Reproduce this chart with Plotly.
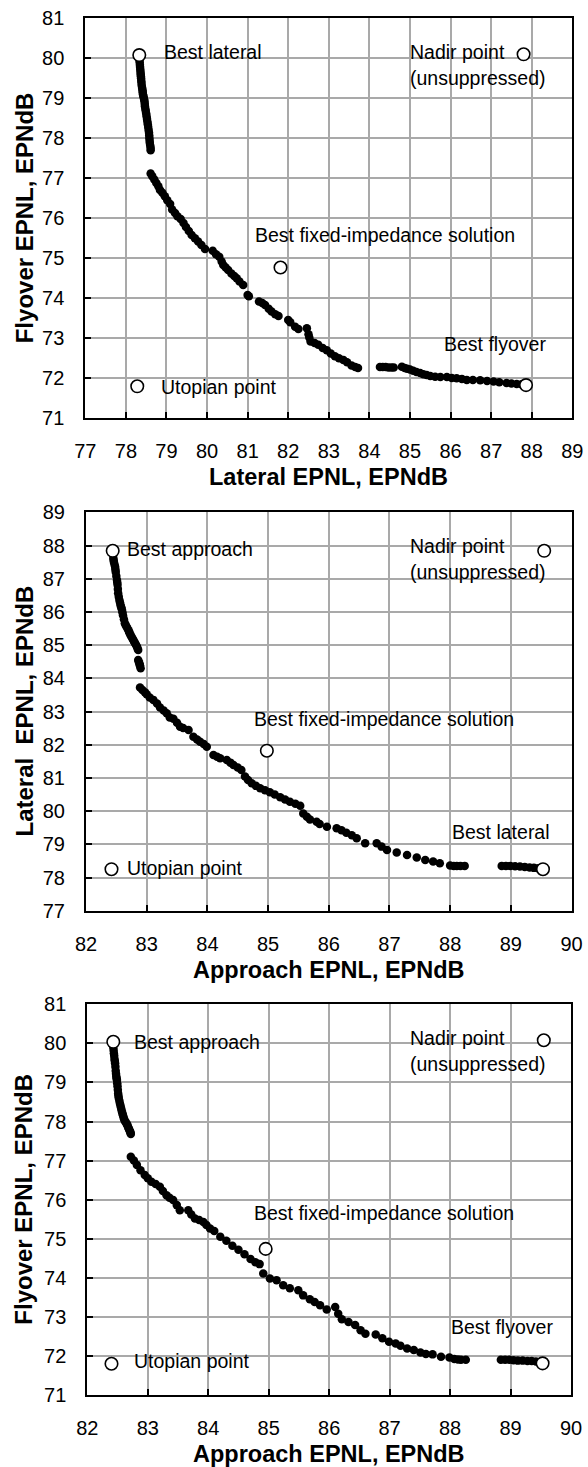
import plotly.graph_objects as go

# ---------------- Panel 1: Lateral (x) vs Flyover (y) ----------------
p1_lateral = [78.33, 78.335, 78.34, 78.345, 78.35, 78.355, 78.36, 78.365, 78.37, 78.375, 78.38, 78.385,
              78.39, 78.40, 78.41, 78.415, 78.42, 78.43, 78.44, 78.45, 78.46, 78.465, 78.47, 78.48,
              78.49, 78.50, 78.51, 78.52, 78.53, 78.54, 78.55, 78.56, 78.57, 78.575, 78.58, 78.585,
              78.59, 78.60, 78.61, 78.61,
              78.61, 78.65, 78.70, 78.75, 78.80, 78.84, 78.90, 78.96, 79.02, 79.09, 79.14, 79.21, 79.27,
              79.35, 79.42, 79.48, 79.55, 79.62, 79.70, 79.78, 79.86, 79.95, 80.14, 80.22, 80.30, 80.36,
              80.40, 80.46, 80.52, 80.60, 80.67, 80.73, 80.80, 80.89,
              81.00, 81.03, 81.28, 81.36, 81.43, 81.52, 81.59, 81.68, 81.76, 82.00, 82.05, 82.17, 82.25,
              82.46, 82.50, 82.52, 82.55, 82.65, 82.74, 82.85, 82.95, 83.05, 83.15, 83.25, 83.36, 83.45,
              83.56, 83.65, 83.72,
              84.26, 84.33, 84.40, 84.47, 84.54, 84.60,
              84.80, 84.87, 84.93, 85.00, 85.08, 85.16, 85.25, 85.33, 85.41, 85.50, 85.62, 85.75, 85.91,
              86.03, 86.15, 86.28, 86.40, 86.55, 86.73, 86.90, 87.06, 87.20, 87.38, 87.50, 87.63, 87.75]
p1_flyover = [80.02, 79.96, 79.90, 79.84, 79.78, 79.72, 79.66, 79.60, 79.55, 79.50, 79.44, 79.38,
              79.32, 79.26, 79.20, 79.15, 79.10, 79.06, 79.02, 78.97, 78.92, 78.86, 78.80, 78.74,
              78.68, 78.62, 78.55, 78.48, 78.42, 78.35, 78.28, 78.21, 78.14, 78.07, 78.00, 77.94,
              77.88, 77.82, 77.76, 77.70,
              77.12, 77.05, 76.97, 76.88, 76.80, 76.71, 76.64, 76.55, 76.45, 76.36, 76.22, 76.13, 76.05,
              75.98, 75.88, 75.78, 75.68, 75.58, 75.50, 75.42, 75.33, 75.23, 75.19, 75.10, 75.04, 74.92,
              74.83, 74.77, 74.71, 74.62, 74.56, 74.50, 74.42, 74.33,
              74.08, 74.05, 73.92, 73.88, 73.83, 73.74, 73.67, 73.60, 73.56, 73.46, 73.40, 73.29, 73.23,
              73.25, 73.10, 73.02, 72.92, 72.88, 72.84, 72.76, 72.70, 72.62, 72.55, 72.50, 72.46, 72.40,
              72.32, 72.28, 72.26,
              72.28, 72.28, 72.28, 72.27, 72.27, 72.27,
              72.29, 72.26, 72.24, 72.22, 72.19, 72.16, 72.13, 72.10, 72.08, 72.06, 72.04, 72.03, 72.03,
              72.01, 72.00, 71.98, 71.96, 71.96, 71.95, 71.93, 71.92, 71.90, 71.88, 71.87, 71.86, 71.85]
# Best lateral, Nadir, Best flyover, Utopian, Best fixed-impedance
p1_special_lateral = [78.33, 87.80, 87.86, 78.28, 81.81]
p1_special_flyover = [80.08, 80.10, 71.83, 71.80, 74.77]

# ---------------- Panel 2: Approach (x) vs Lateral (y) ----------------
p2_approach = [82.45, 82.455, 82.46, 82.47, 82.48, 82.485, 82.49, 82.50, 82.51, 82.515, 82.52, 82.525,
               82.53, 82.54, 82.55, 82.56, 82.57, 82.58, 82.59, 82.60, 82.61, 82.625, 82.64, 82.655,
               82.67, 82.685, 82.70, 82.71, 82.72, 82.735, 82.75, 82.765, 82.78, 82.795, 82.81, 82.825,
               82.84, 82.85, 82.86,
               82.86, 82.87, 82.88, 82.885, 82.89, 82.90,
               82.89, 82.93, 82.97, 83.00, 83.05, 83.11, 83.17, 83.22, 83.28, 83.33, 83.38, 83.44, 83.50,
               83.55, 83.60, 83.69, 83.77, 83.83, 83.88, 83.94, 83.99, 84.10, 84.16, 84.21, 84.32, 84.38,
               84.43, 84.50, 84.56,
               84.62, 84.67, 84.73, 84.80, 84.87, 84.95, 85.03, 85.11, 85.20, 85.28, 85.36, 85.45, 85.53,
               85.58, 85.64, 85.69, 85.80, 85.85, 85.97, 86.13, 86.21, 86.29, 86.38, 86.46, 86.60,
               86.79, 86.87, 86.96, 87.12, 87.29, 87.45, 87.59, 87.72, 87.83,
               88.00, 88.06, 88.11, 88.17, 88.24,
               88.85, 88.92, 88.99, 89.07, 89.15, 89.23, 89.31, 89.38, 89.45]
p2_lateral = [87.62, 87.56, 87.50, 87.43, 87.36, 87.28, 87.20, 87.08, 86.96, 86.89, 86.82, 86.69,
              86.56, 86.46, 86.36, 86.28, 86.20, 86.14, 86.08, 85.99, 85.90, 85.78, 85.66, 85.60,
              85.55, 85.50, 85.45, 85.40, 85.36, 85.30, 85.25, 85.20, 85.15, 85.10, 85.05, 85.00,
              84.95, 84.90, 84.85,
              84.55, 84.50, 84.45, 84.41, 84.38, 84.30,
              83.72, 83.65, 83.58, 83.52, 83.42, 83.35, 83.24, 83.12, 83.03, 82.95, 82.82, 82.78, 82.66,
              82.54, 82.50, 82.44, 82.24, 82.16, 82.09, 82.02, 81.94, 81.69, 81.64, 81.59, 81.54, 81.46,
              81.39, 81.31, 81.24,
              81.04, 80.94, 80.84, 80.76, 80.69, 80.63, 80.57, 80.50, 80.42, 80.35, 80.28, 80.22, 80.16,
              79.93, 79.83, 79.75, 79.68, 79.61, 79.53, 79.48, 79.42, 79.35, 79.27, 79.18, 79.03,
              79.03, 78.93, 78.83, 78.75, 78.68, 78.60, 78.53, 78.48, 78.43,
              78.36, 78.35, 78.35, 78.35, 78.35,
              78.35, 78.35, 78.35, 78.34, 78.33, 78.32, 78.30, 78.29, 78.28]
# Best approach, Nadir, Best lateral, Utopian, Best fixed-impedance
p2_special_approach = [82.44, 89.55, 89.53, 82.42, 84.98]
p2_special_lateral = [87.84, 87.84, 78.25, 78.25, 81.82]

# ---------------- Panel 3: Approach (x) vs Flyover (y) ----------------
p3_approach = [82.43, 82.435, 82.44, 82.445, 82.45, 82.455, 82.46, 82.465, 82.47, 82.475, 82.48, 82.485,
               82.49, 82.495, 82.50, 82.505, 82.51, 82.515, 82.52, 82.53, 82.54, 82.55, 82.56, 82.57,
               82.58, 82.59, 82.60, 82.61, 82.62, 82.635, 82.65, 82.66, 82.67, 82.68, 82.69, 82.70,
               82.71, 82.715, 82.72,
               82.72, 82.77, 82.82, 82.88, 82.95, 83.00, 83.06, 83.13, 83.20, 83.25, 83.31, 83.36, 83.42,
               83.48, 83.53, 83.67, 83.72, 83.78, 83.85, 83.92, 83.97, 84.03,
               84.10, 84.20, 84.30, 84.40, 84.50, 84.60, 84.70, 84.78, 84.85,
               84.91, 85.02, 85.13, 85.24, 85.35, 85.49, 85.57, 85.68, 85.76, 85.85, 85.96, 86.10, 86.15,
               86.21, 86.32, 86.43, 86.52, 86.60, 86.77, 86.88, 86.99, 87.10, 87.18, 87.29, 87.40, 87.51,
               87.60, 87.71, 87.85, 87.99, 88.07, 88.13, 88.18, 88.26,
               88.84, 88.91, 88.98, 89.05, 89.12, 89.20, 89.28, 89.35, 89.42]
p3_flyover = [79.91, 79.83, 79.75, 79.68, 79.60, 79.55, 79.49, 79.40, 79.30, 79.22, 79.15, 79.10,
              79.06, 78.98, 78.90, 78.81, 78.72, 78.66, 78.60, 78.53, 78.46, 78.40, 78.33, 78.27,
              78.21, 78.16, 78.10, 78.06, 78.02, 77.98, 77.95, 77.92, 77.88, 77.84, 77.80, 77.77,
              77.74, 77.71, 77.68,
              77.10, 77.00, 76.89, 76.75, 76.63, 76.55, 76.46, 76.40, 76.33, 76.22, 76.11, 76.05, 75.99,
              75.86, 75.73, 75.73, 75.62, 75.52, 75.48, 75.43, 75.35, 75.26,
              75.20, 75.05, 74.95, 74.82, 74.72, 74.60, 74.48, 74.40, 74.35,
              74.11, 73.98, 73.94, 73.81, 73.73, 73.68, 73.55, 73.45, 73.38, 73.30, 73.19, 73.25, 73.08,
              72.94, 72.87, 72.79, 72.66, 72.57, 72.55, 72.45, 72.36, 72.32, 72.26, 72.19, 72.15, 72.09,
              72.05, 72.04, 71.98, 71.96, 71.92, 71.91, 71.90, 71.90,
              71.90, 71.90, 71.90, 71.89, 71.88, 71.88, 71.87, 71.87, 71.86]
# Best approach, Nadir, Best flyover, Utopian, Best fixed-impedance
p3_special_approach = [82.43, 89.55, 89.53, 82.40, 84.95]
p3_special_flyover = [80.04, 80.08, 71.81, 71.80, 74.74]

W, H = 588, 1467
TICK_FONT = dict(family="Liberation Sans, Arial, sans-serif", size=20, color="black")
TITLE_FONT_X = dict(family="Liberation Sans, Arial, sans-serif", size=23.5, color="black", weight="bold")
TITLE_FONT_Y = dict(family="Liberation Sans, Arial, sans-serif", size=24, color="black", weight="bold")
NOTE_FONT = dict(family="Liberation Sans, Arial, sans-serif", size=19.5, color="black")
GRID_COLOR = "#a9a9a9"


def xdom(l, r):
    return [l / W, r / W]


def ydom(b, t):
    return [1 - b / H, 1 - t / H]


panels = [
    dict(x=p1_lateral, y=p1_flyover, sx=p1_special_lateral, sy=p1_special_flyover,
         xd=xdom(85.3, 572.3), yd=ydom(418.3, 18.3), xr=[77, 89], yr=[71, 81]),
    dict(x=p2_approach, y=p2_lateral, sx=p2_special_approach, sy=p2_special_lateral,
         xd=xdom(86.0, 571.5), yd=ydom(910.7, 512.3), xr=[82, 90], yr=[77, 89]),
    dict(x=p3_approach, y=p3_flyover, sx=p3_special_approach, sy=p3_special_flyover,
         xd=xdom(87.3, 571.0), yd=ydom(1395.0, 1004.3), xr=[82, 90], yr=[71, 81]),
]

fig = go.Figure()
layout = dict(width=W, height=H, margin=dict(l=0, r=0, t=0, b=0),
              plot_bgcolor="white", showlegend=False)

for i, p in enumerate(panels, start=1):
    sfx = "" if i == 1 else str(i)
    fig.add_trace(go.Scatter(x=p["x"], y=p["y"], mode="markers", xaxis="x" + sfx, yaxis="y" + sfx,
                             marker=dict(size=8.5, color="black"),
                             hoverinfo="skip", cliponaxis=False))
    fig.add_trace(go.Scatter(x=p["sx"], y=p["sy"], mode="markers", xaxis="x" + sfx, yaxis="y" + sfx,
                             marker=dict(size=12.5, color="white", line=dict(width=1.6, color="black")),
                             hoverinfo="skip", cliponaxis=False))
    common = dict(showline=True, linecolor="black", linewidth=2, mirror=True,
                  showgrid=True, gridcolor=GRID_COLOR, gridwidth=1.6, zeroline=False,
                  ticks="inside", ticklen=6, tickwidth=2, tickcolor="black",
                  tickmode="linear", tick0=0, dtick=1,
                  tickfont=TICK_FONT, automargin=False, fixedrange=True)
    layout["xaxis" + sfx] = dict(common, domain=p["xd"], range=p["xr"], anchor="y" + sfx,
                                 ticklabelstandoff=14)
    layout["yaxis" + sfx] = dict(common, domain=p["yd"], range=p["yr"], anchor="x" + sfx,
                                 ticklabelstandoff=15)

fig.update_layout(**layout)


def note(text, x, y, ax, xanchor="left"):
    sfx = "" if ax == 1 else str(ax)
    fig.add_annotation(text=text, x=x, y=y, xref="x" + sfx, yref="y" + sfx, showarrow=False,
                       xanchor=xanchor, yanchor="middle", font=NOTE_FONT)


# Panel 1 notes
note("Best lateral", 78.88, 80.17, 1)
note("Nadir point", 84.95, 80.17, 1)
note("(unsuppressed)", 84.95, 79.50, 1)
note("Best fixed-impedance solution", 81.12, 75.58, 1)
note("Best flyover", 85.78, 72.85, 1)
note("Utopian point", 78.82, 71.78, 1)
# Panel 2 notes
note("Best approach", 82.64, 87.89, 2)
note("Nadir point", 87.30, 87.99, 2)
note("(unsuppressed)", 87.30, 87.19, 2)
note("Best fixed-impedance solution", 84.74, 82.77, 2)
note("Best lateral", 87.99, 79.36, 2)
note("Utopian point", 82.64, 78.29, 2)
# Panel 3 notes
note("Best approach", 82.74, 80.04, 3)
note("Nadir point", 87.30, 80.15, 3)
note("(unsuppressed)", 87.30, 79.47, 3)
note("Best fixed-impedance solution", 84.73, 75.65, 3)
note("Best flyover", 87.98, 72.75, 3)
note("Utopian point", 82.74, 71.88, 3)

# Axis titles
x_titles = [("Lateral EPNL, EPNdB", 328.8, 477.0),
            ("Approach EPNL, EPNdB", 328.8, 969.5),
            ("Approach EPNL, EPNdB", 329.2, 1453.5)]
y_titles = [("Flyover EPNL, EPNdB", 24.0, 218.3),
            ("Lateral\u00a0 EPNL, EPNdB", 24.0, 711.5),
            ("Flyover EPNL, EPNdB", 24.0, 1199.7)]
for t, px, py in x_titles:
    fig.add_annotation(text=t, x=px / W, y=1 - py / H, xref="paper", yref="paper", showarrow=False,
                       xanchor="center", yanchor="middle", font=TITLE_FONT_X)
for t, px, py in y_titles:
    fig.add_annotation(text=t, x=px / W, y=1 - py / H, xref="paper", yref="paper", showarrow=False,
                       xanchor="center", yanchor="middle", textangle=-90, font=TITLE_FONT_Y)

fig.write_html("out.html")
